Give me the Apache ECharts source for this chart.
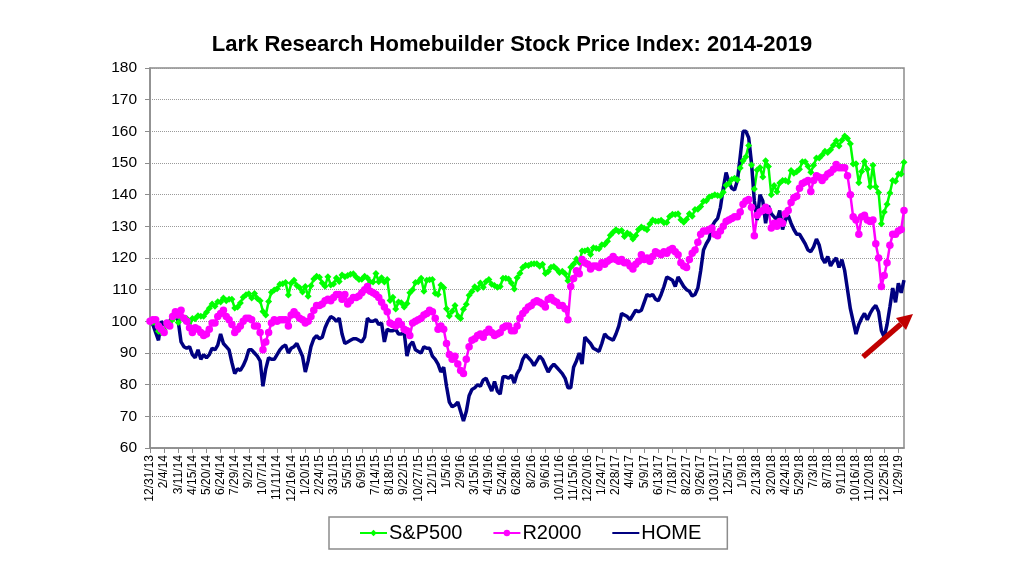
<!DOCTYPE html>
<html>
<head>
<meta charset="utf-8">
<title>Lark Research Homebuilder Stock Price Index</title>
<script src="https://cdn.jsdelivr.net/npm/echarts@6/dist/echarts.min.js"></script>
<style>
  html, body { margin: 0; padding: 0; background: #fff; }
  #chart { width: 1024px; height: 576px; }
</style>
</head>
<body>
<div id="chart"></div>
<script>
// weekly index values, 12/31/13 = 100
const sp500 = [100,
  99.7, 99.5, 96.9, 96.5, 97.3, 99.5, 99.4, 100.6, 101.6, 99.6, 101, 100.5, 100.9, 98.2, 100.9, 100.8, 101.8, 101.6, 101.6, 102.9, 104.1, 105.5, 104.8, 106.2, 106.1, 107.4, 106.5, 107, 107, 104.2, 104.5, 105.8, 107.6, 108.4, 108.7, 107.4, 108.8, 107.2, 106.5, 103.1, 102, 106.3, 109.2, 109.9, 110.3, 111.7, 111.9, 112.3, 108.3, 112, 113,
  111.3, 110.6, 109.3, 111, 107.9, 111.2, 113.4, 114.2, 113.9, 112.1, 111.1, 114.1, 111.5, 111.8, 113.7, 112.6, 114.6, 114.1, 114.5, 114.9, 115, 114, 113.2, 113.3, 114.2, 113.7, 112.4, 112.4, 115.1, 112.5, 113.8, 112.4, 113.2, 106.6, 107.6, 103.9, 106.1, 105.9, 104.5, 105.6, 109, 110, 112.3, 112.5, 113.6, 109.5, 113, 113.1, 113.2, 108.9, 108.5, 111.5, 110.6,
  104, 101.7, 103.2, 105, 101.7, 100.9, 103.8, 105.4, 108.2, 109.4, 110.9, 110.2, 112.1, 110.8, 112.6, 113.2, 111.7, 111.3, 110.8, 111, 113.6, 113.6, 113.4, 112.1, 110.2, 113.8, 115.2, 117, 117.7, 117.6, 118.1, 118.2, 118.2, 117.4, 118, 115.1, 115.7, 117.1, 117.3, 116.5, 115.4, 115.8, 115, 112.8, 117.1, 118.1, 119.7, 118.6, 122.2, 122.2, 122.5, 121.1,
  123.2, 123.1, 122.9, 124.2, 124.3, 125.3, 127.2, 128.1, 128.9, 128.4, 128.7, 126.8, 127.9, 127.4, 126, 127.1, 129, 129.8, 129.4, 128.9, 130.7, 132, 131.6, 131.6, 131.9, 131.1, 131.2, 133.1, 133.8, 133.7, 134, 132.1, 131.3, 132.2, 134, 133.2, 135.3, 135.4, 136.3, 137.9, 138.1, 139.3, 139.6, 140, 139.7, 139.6, 140.8, 143, 143.5, 144.8, 145.2, 144.7,
  148.4, 150.7, 152, 155.5, 149.4, 141.8, 147.8, 148.6, 145.6, 150.7, 148.9, 140, 142.9, 140.9, 143.7, 144.5, 144.5, 144.1, 147.6, 146.8, 147.2, 148, 150.4, 150.4, 149, 147.1, 149.3, 151.6, 151.6, 152.5, 153.7, 153.3, 154.2, 155.6, 157, 155.4, 157.2, 158.5, 157.7, 156.1, 149.7, 149.8, 143.8, 147.3, 150.5, 148, 142.5, 149.3, 142.5, 140.7, 130.8, 134.5,
  137, 140.5, 144.5, 144.2, 146.5, 146.5, 150.2];

const r2000 = [
  100, 100.5, 100.5, 98.5, 97.5, 96.5, 99.5, 98.5, 101.5, 103,
  102, 103.5, 101, 100, 98, 96.5, 98, 97.5, 96.5, 95.5,
  96, 97.5, 99.5, 99.5, 101.5, 102.5, 103.5, 101.5, 100.5, 99,
  96.5, 97.5, 98.5, 100, 101, 101, 100.5, 98.5, 98.5, 96.5,
  91, 93.5, 96.5, 99.5, 100.5, 100, 100.5, 100.5, 100.5, 98.5,
  102, 103, 102, 101, 100.5, 99.5, 100, 101.5, 103.5, 105,
  105, 105.5, 106.5, 107, 106.5, 107.5, 108.5, 108.5, 107, 108.5,
  105.5, 106.5, 107.5, 107.5, 108, 109, 110, 111, 109.5, 109,
  108.5, 107.5, 106, 104.5, 103, 99.5, 99, 98.5, 100, 99,
  97.5, 97, 95.5, 99.5, 100, 100.5, 101, 102, 102.5, 103.5,
  103, 101, 97.5, 98.5, 97.5, 93, 89.5, 88, 89, 86.5,
  84.5, 83.5, 88, 92, 94, 94.5, 95.5, 96, 95, 96.5,
  97.5, 96.5, 95.5, 96, 96.5, 98, 98.5, 98.5, 97, 97,
  98.5, 101, 102.5, 103.5, 104.5, 105, 106,
  106.5, 106, 105.5, 104.5, 107, 107.5, 106.5, 106, 105, 105,
  104, 100.5, 111, 113.5, 116, 115, 119.5, 118.5, 118, 116.5,
  117.5, 117.5, 117, 118.5, 118, 119, 119.5, 120.5, 119.5, 119,
  119.5, 118.5, 118.5, 117.5, 116.5, 118, 119, 121, 119.5, 120,
  119, 120.5, 122, 121.5, 121, 122, 121.5, 122.5, 123, 122,
  121, 118.5, 117.5, 117, 119.5, 121.5, 122.5, 125, 127.5, 128.5,
  128.5, 129, 129.5, 127.5, 127, 128.5, 130, 131.5, 132, 132.5,
  133, 133,
  134.5, 137, 138, 138.5, 136, 127, 133.5, 134.5, 135, 136,
  135, 129.5, 131, 130, 131.5, 131, 134, 135, 137.5, 139,
  139.5, 142, 143.5, 144, 144.5, 141, 144.5, 146, 145.5, 144.5,
  145.5, 146.5, 147, 148, 149.5, 148.5, 148.5, 148.5, 146, 140,
  133, 132, 127.5, 133, 133.5, 132, 131.5, 132, 124.5, 120,
  111, 114.5, 118.5, 124, 127.5, 127.5, 128.5, 129, 135];

const home = [
  100, 99, 96.5, 94, 100, 99, 99.5, 100, 102, 103.5,
  100, 93.5, 92, 91.5, 92, 89.5, 88.5, 91, 88, 89.5,
  88.5, 89.5, 91.5, 91, 92.5, 96, 93, 92, 91, 87,
  83.5, 85, 84.5, 86, 88, 91, 91, 90, 89, 87.5,
  79.5, 85, 88.5, 88, 88, 89.5, 91, 92, 92.5, 90,
  91.5, 92, 93, 91, 89, 84, 87.5, 92, 94.5, 95.5,
  94.5, 95, 98, 100, 101.5, 101, 100, 101, 96, 93,
  93.5, 94, 94.5, 94.5, 94, 93.5, 95, 101, 100, 100,
  100.5, 99, 99.5, 93.5, 97.5, 97, 97, 97.5, 96, 96,
  96.5, 89, 92.5, 93.5, 91, 90.5, 90, 92, 91.5, 91.5,
  89, 88, 86.5, 84, 85.5, 79.5, 74.5, 73, 73.5, 74.5,
  71.5, 68.5, 71.5, 76.5, 78.5, 79, 80, 79.5, 81.5, 82,
  80, 78, 81, 78, 77, 82.5, 82.5, 82, 83, 80.5,
  83.5, 85, 88, 89.5, 88.5, 87.5,
  86, 87.5, 89, 88, 86, 84, 85.5, 86.5, 85.5, 84.5,
  83.5, 82, 79, 79, 85.5, 87.5, 90, 86.5, 95, 94,
  93, 91.5, 91, 90.5, 93, 96, 95, 94.5, 94, 96,
  98.5, 102.5, 102, 101.5, 100.5, 102, 103.5, 103, 103.5, 106,
  108.5, 108, 108.5, 107, 106.5, 108.5, 111,
  114, 113.5, 113, 111, 114, 112.5, 111, 110, 109.5, 108,
  108.5, 110.5, 116, 122.5, 124.5, 126, 130, 131.5, 132.5, 136,
  142, 147, 144, 142, 141.5, 144.5, 152, 160, 160, 158,
  150, 138, 132, 140, 138, 131, 136.5, 134, 133, 132,
  135, 129, 132, 133.5, 131, 129, 127.5, 127.5, 126, 124.5,
  122.5, 122, 123.5, 126, 124, 120, 118.5, 120.5, 117.5, 119,
  120, 117, 119.5, 116, 110, 104, 100, 96, 99, 101,
  102.5, 100.5, 102.5, 104, 105, 103, 97, 95, 99, 104.5,
  110.5, 106, 112, 109, 113];

// weekly dates from 12/31/13, label every 5th week
const firstWeek = Date.UTC(2013, 11, 31);
const weeks = home.map((_, i) => {
  const d = new Date(firstWeek + i * 7 * 86400000);
  return (d.getUTCMonth() + 1) + '/' + d.getUTCDate() + '/' + String(d.getUTCFullYear()).slice(2);
});

const font = 'Liberation Sans, Arial, sans-serif';
const chart = echarts.init(document.getElementById('chart'));

chart.setOption({
  animation: false,
  backgroundColor: '#fff',
  textStyle: { fontFamily: font },
  title: {
    text: 'Lark Research Homebuilder Stock Price Index: 2014-2019',
    left: 'center',
    top: 29,
    textStyle: { fontSize: 22, fontWeight: 'bold', color: '#000', fontFamily: font }
  },
  grid: {
    left: 150, right: 120, top: 68, bottom: 128,
    show: true, borderColor: '#8c8c8c', borderWidth: 1.5
  },
  legend: {
    bottom: 27,
    left: 329,
    itemWidth: 27,
    itemHeight: 8,
    itemGap: 30,
    padding: [6, 26, 6, 30],
    borderColor: '#8c8c8c',
    borderWidth: 1.5,
    textStyle: { fontSize: 20, color: '#000', fontFamily: font, padding: [0, 0, 0, -3] },
    data: ['S&P500', 'R2000', { name: 'HOME', itemStyle: { opacity: 0 } }]
  },
  xAxis: {
    type: 'category',
    data: weeks,
    boundaryGap: false,
    axisLine: { lineStyle: { color: '#8c8c8c', width: 1.5 } },
    axisTick: { interval: 4, length: 5, lineStyle: { color: '#8c8c8c' } },
    axisLabel: { interval: 4, rotate: 90, fontSize: 12, color: '#000', margin: 7, fontFamily: font },
    splitLine: { show: false }
  },
  yAxis: {
    type: 'value',
    min: 60, max: 180, interval: 10,
    axisLine: { show: true, lineStyle: { color: '#8c8c8c', width: 1.5 } },
    axisTick: { show: true, length: 5, lineStyle: { color: '#8c8c8c' } },
    axisLabel: { fontSize: 15.5, color: '#000', margin: 13, fontFamily: font },
    splitLine: { lineStyle: { color: '#9a9a9a', type: 'dotted', width: 1 } }
  },
  series: [
    {
      name: 'S&P500', type: 'line', data: sp500,
      symbol: 'diamond', symbolSize: 7, showAllSymbol: true,
      lineStyle: { color: '#00ff00', width: 2.5 },
      itemStyle: { color: '#00ff00' }
    },
    {
      name: 'R2000', type: 'line', data: r2000,
      symbol: 'circle', symbolSize: 7.5, showAllSymbol: true,
      lineStyle: { color: '#ff00ff', width: 2.5 },
      itemStyle: { color: '#ff00ff' }
    },
    {
      name: 'HOME', type: 'line', data: home,
      symbol: 'none',
      lineStyle: { color: '#000080', width: 3.5 },
      itemStyle: { color: '#000080' }
    }
  ],
  // red arrow drawn on top of the plot
  graphic: [
    { type: 'line', z: 100, shape: { x1: 863, y1: 357, x2: 901, y2: 324 },
      style: { stroke: '#c00000', lineWidth: 5.5 } },
    { type: 'polygon', z: 100, shape: { points: [[913, 314], [906, 330], [896, 318]] },
      style: { fill: '#c00000' } }
  ]
});
</script>
</body>
</html>
